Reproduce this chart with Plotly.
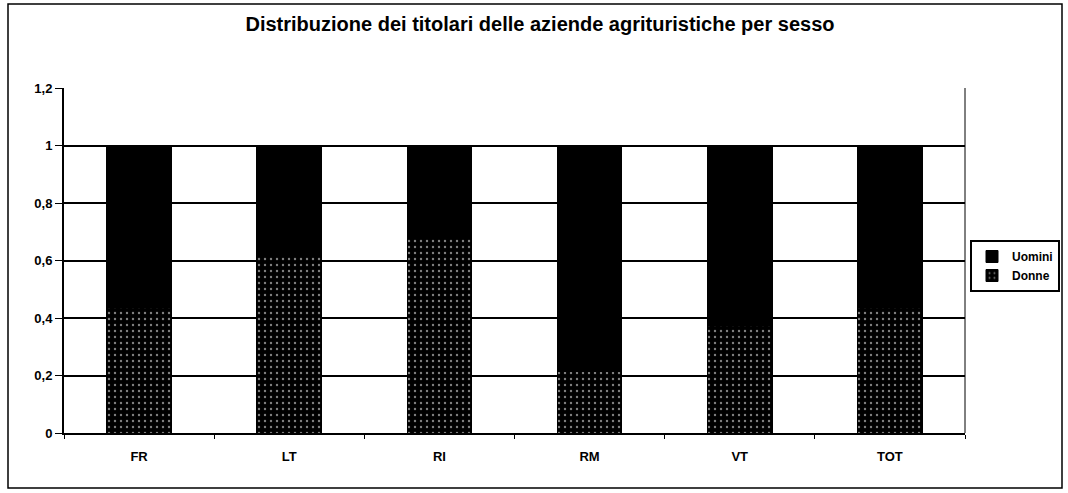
import plotly.graph_objects as go

# ---- data ----
province = ["FR", "LT", "RI", "RM", "VT", "TOT"]
donne = [0.435, 0.62, 0.68, 0.215, 0.375, 0.435]
uomini = [round(1 - v, 3) for v in donne]
y_ticks = [0, 0.2, 0.4, 0.6, 0.8, 1, 1.2]
y_labels = ["0", "0,2", "0,4", "0,6", "0,8", "1", "1,2"]

fig = go.Figure()

# bottom of the stack: stippled
fig.add_trace(go.Bar(
    x=province, y=donne, name="Donne",
    marker=dict(
        color="black",
        line=dict(color="black", width=1),
        pattern=dict(shape=".", fgcolor="white", bgcolor="black",
                     size=6, solidity=0.12, fillmode="overlay"),
    ),
))

# top of the stack: solid black
fig.add_trace(go.Bar(
    x=province, y=uomini, name="Uomini",
    marker=dict(color="black", line=dict(color="black", width=1)),
))

W, H = 1068, 493
L, R, T, B = 64, 965, 88, 433
pw, ph = R - L, B - T


def px_x(v):
    return (v - L) / pw


def px_y(v):
    return (B - v) / ph


fig.update_layout(
    width=W, height=H,
    barmode="stack",
    bargap=0.57,
    paper_bgcolor="white",
    plot_bgcolor="white",
    font=dict(family="Liberation Sans, Arial, sans-serif", color="black", size=12),
    margin=dict(l=L, r=W - R, t=T, b=H - B, autoexpand=False),
    title=dict(
        text="<b>Distribuzione dei titolari delle aziende agrituristiche per sesso</b>",
        x=540 / W, xanchor="center", y=1 - 24 / H, yanchor="middle",
        font=dict(size=20, color="black"),
    ),
    legend=dict(
        x=px_x(970), y=px_y(240), xanchor="left", yanchor="top",
        traceorder="reversed",
        bordercolor="black", borderwidth=2,
        font=dict(size=12, color="black", weight="bold"),
        itemwidth=30,
        bgcolor="white",
        tracegroupgap=2,
    ),
    xaxis=dict(
        showline=True, linecolor="black", linewidth=2,
        ticks="outside", ticklen=4, tickcolor="black",
        tickson="boundaries",
        ticklabelstandoff=10,
        tickfont=dict(size=13, weight="bold"),
        showgrid=False,
    ),
    yaxis=dict(
        range=[0, 1.2],
        tickvals=y_ticks, ticktext=y_labels,
        showline=True, linecolor="black", linewidth=2,
        ticks="outside", ticklen=7, tickcolor="black",
        showgrid=True, gridcolor="black", gridwidth=2,
        zeroline=False,
        tickfont=dict(size=13, weight="bold"),
    ),
    shapes=[
        # outer chart border
        dict(type="rect", xref="paper", yref="paper",
             x0=px_x(8), x1=px_x(1062), y0=px_y(488), y1=px_y(4),
             line=dict(color="black", width=1.5)),
        # right edge of plot area
        dict(type="line", xref="paper", yref="paper",
             x0=1, x1=1, y0=0, y1=1,
             line=dict(color="black", width=1)),
    ],
    showlegend=True,
)

# page body has a default 8px margin; drop it so the chart sits at 0,0
fig.write_html("out.html", config={"displayModeBar": False},
               post_script="document.body.style.margin='0';")
